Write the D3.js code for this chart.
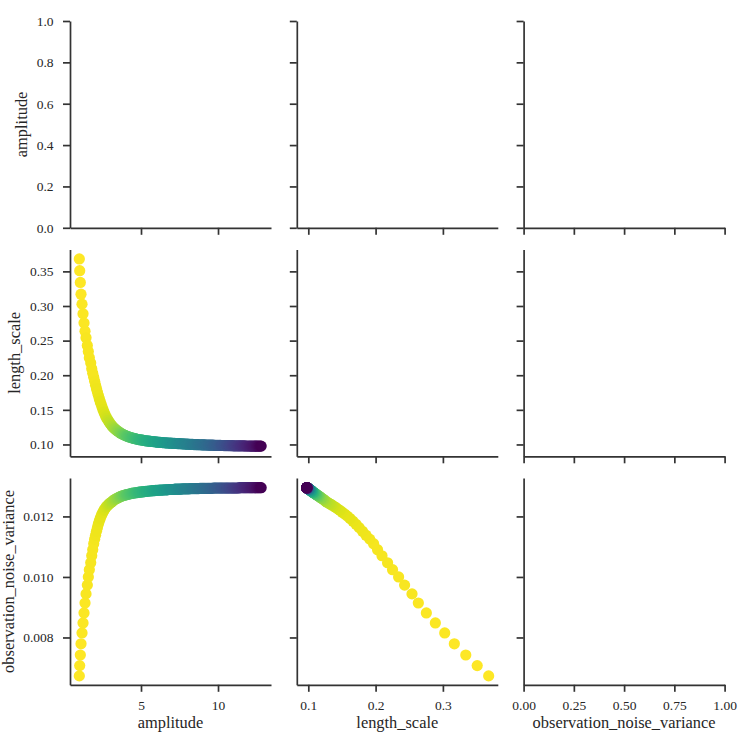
<!DOCTYPE html>
<html><head><meta charset="utf-8">
<script src="https://cdn.jsdelivr.net/npm/d3@7"></script>
<style>
body{margin:0;background:#fff}
</style>
</head><body><svg id="c" width="750" height="750"></svg>
<script>
const variables = ["amplitude", "length_scale", "observation_noise_variance"];

// optimisation step of each plotted point (hue)
const steps = [
  0, 1, 2, 3, 4, 5, 6, 7, 8, 9, 10, 11, 12, 13, 14, 15,
  18, 21, 24, 27, 30, 33, 36, 39, 42, 46, 52, 58, 66, 74, 82, 91, 100, 109, 118,
  127, 138, 149, 160, 171, 181, 192, 204, 216, 228,
  239, 250, 259, 268, 277, 284, 292, 300, 308, 315,
  322, 329, 336, 343, 349, 355, 361, 367, 373, 379,
  384, 390, 396, 402, 407, 412, 418, 423, 428, 433,
  438, 444, 450, 455, 461, 466, 472, 477, 483, 488,
  493, 499, 504, 510, 516, 521, 527, 533, 538, 544,
  549, 555, 561, 566, 572, 577, 583, 589, 595, 600,
  606, 612, 618, 624, 630, 635, 641, 647, 653, 659,
  665, 671, 678, 684, 691, 697, 704, 710, 717, 724,
  730, 737, 744, 751, 758, 765, 773, 781, 789, 797,
  804, 812, 820, 828, 836, 843, 851, 859, 867, 875,
  882, 890, 898, 906, 914, 922, 930, 939, 948, 958,
  967, 977, 988, 999
];

const amplitude = [
  0.995, 1.02, 1.06, 1.105, 1.17, 1.235, 1.30, 1.365, 1.43, 1.515, 1.58, 1.645, 1.735, 1.80, 1.865, 1.93,
  1.99, 2.05, 2.11, 2.17, 2.23, 2.29, 2.35, 2.41, 2.47, 2.53, 2.59, 2.65, 2.72, 2.79, 2.86, 2.93, 3.00, 3.07, 3.14,
  3.21, 3.29, 3.37, 3.45, 3.53, 3.60, 3.68, 3.76, 3.84, 3.92,
  3.99, 4.07, 4.15, 4.23, 4.31, 4.38, 4.46, 4.54, 4.62, 4.70,
  4.77, 4.85, 4.93, 5.01, 5.09, 5.16, 5.24, 5.32, 5.40, 5.48,
  5.55, 5.63, 5.71, 5.79, 5.87, 5.94, 6.02, 6.10, 6.18, 6.26,
  6.33, 6.41, 6.49, 6.57, 6.65, 6.72, 6.80, 6.88, 6.96, 7.04,
  7.11, 7.19, 7.27, 7.35, 7.43, 7.50, 7.58, 7.66, 7.74, 7.82,
  7.89, 7.97, 8.05, 8.13, 8.21, 8.28, 8.36, 8.44, 8.52, 8.60,
  8.67, 8.75, 8.83, 8.91, 8.99, 9.06, 9.14, 9.22, 9.30, 9.38,
  9.45, 9.53, 9.61, 9.69, 9.77, 9.84, 9.92, 10.00, 10.08, 10.16,
  10.23, 10.31, 10.39, 10.47, 10.55, 10.62, 10.70, 10.78, 10.86, 10.94,
  11.01, 11.09, 11.17, 11.25, 11.33, 11.40, 11.48, 11.56, 11.64, 11.72,
  11.79, 11.87, 11.95, 12.03, 12.11, 12.18, 12.26, 12.34, 12.42, 12.50,
  12.57, 12.65, 12.73, 12.80
];

const lengthScale = [
  0.368, 0.351, 0.334, 0.317, 0.3027, 0.2888, 0.2754, 0.2635, 0.2541, 0.2431, 0.2342, 0.2252, 0.2178, 0.2095, 0.2029, 0.197,
  0.1912, 0.1857, 0.1805, 0.1756, 0.1709, 0.1664, 0.1621, 0.1580, 0.1541, 0.1504, 0.1469, 0.1436, 0.1405, 0.1376, 0.1349, 0.1324, 0.1301, 0.1280, 0.1261,
  0.1244, 0.1228, 0.1213, 0.1199, 0.1186, 0.1174, 0.1163, 0.1153, 0.1144, 0.1136,
  0.1128, 0.1121, 0.1114, 0.1108, 0.1102, 0.1097, 0.1092, 0.1087, 0.1083, 0.1079,
  0.1075, 0.1071, 0.1068, 0.1065, 0.1062, 0.1059, 0.1056, 0.1053, 0.1051, 0.1049,
  0.1047, 0.1045, 0.1043, 0.1041, 0.1039, 0.1037, 0.1035, 0.1033, 0.1031, 0.1030,
  0.1028, 0.1027, 0.1025, 0.1024, 0.1023, 0.1021, 0.1020, 0.1019, 0.1018, 0.1017,
  0.1016, 0.1015, 0.1014, 0.1013, 0.1012, 0.1011, 0.1010, 0.1009, 0.1008, 0.1007,
  0.1006, 0.1005, 0.1004, 0.1003, 0.1002, 0.1001, 0.1000, 0.0999, 0.0999, 0.0998,
  0.0997, 0.0996, 0.0996, 0.0995, 0.0994, 0.0994, 0.0993, 0.0992, 0.0992, 0.0991,
  0.0991, 0.0990, 0.0989, 0.0989, 0.0988, 0.0988, 0.0987, 0.0987, 0.0986, 0.0986,
  0.0985, 0.0985, 0.0984, 0.0984, 0.0984, 0.0983, 0.0983, 0.0982, 0.0982, 0.0982,
  0.0981, 0.0981, 0.0981, 0.0980, 0.0980, 0.0980, 0.0979, 0.0979, 0.0979, 0.0979,
  0.0978, 0.0978, 0.0978, 0.0978, 0.0977, 0.0977, 0.0977, 0.0977, 0.0977, 0.0976,
  0.0976, 0.0976, 0.0976, 0.0976
];

const noiseVariance = [
  0.00673, 0.00707, 0.00742, 0.00779, 0.00815, 0.00848, 0.00881, 0.00914, 0.00944, 0.00973, 0.01000, 0.01024, 0.01047, 0.01070, 0.01090, 0.01110,
  0.01125, 0.01138, 0.01151, 0.01163, 0.01174, 0.01184, 0.01193, 0.01201, 0.01208, 0.01214, 0.01220, 0.01225, 0.01230, 0.01234, 0.01238, 0.01241, 0.01244, 0.01247, 0.01249,
  0.01253, 0.01256, 0.01258, 0.01260, 0.01262, 0.01264, 0.01266, 0.01267, 0.01269, 0.01270,
  0.01271, 0.01272, 0.01273, 0.01274, 0.01275, 0.01276, 0.01277, 0.01277, 0.01278, 0.01279,
  0.01279, 0.01280, 0.01280, 0.01281, 0.01281, 0.01282, 0.01282, 0.01283, 0.01283, 0.01284,
  0.01284, 0.01284, 0.01285, 0.01285, 0.01285, 0.01286, 0.01286, 0.01286, 0.01287, 0.01287,
  0.01287, 0.01287, 0.01288, 0.01288, 0.01288, 0.01288, 0.01289, 0.01289, 0.01289, 0.01289,
  0.01289, 0.01290, 0.01290, 0.01290, 0.01290, 0.01290, 0.01290, 0.01291, 0.01291, 0.01291,
  0.01291, 0.01291, 0.01291, 0.01291, 0.01292, 0.01292, 0.01292, 0.01292, 0.01292, 0.01292,
  0.01292, 0.01292, 0.01293, 0.01293, 0.01293, 0.01293, 0.01293, 0.01293, 0.01293, 0.01293,
  0.01293, 0.01293, 0.01293, 0.01294, 0.01294, 0.01294, 0.01294, 0.01294, 0.01294, 0.01294,
  0.01294, 0.01294, 0.01294, 0.01294, 0.01294, 0.01294, 0.01294, 0.01294, 0.01294, 0.01294,
  0.01294, 0.01294, 0.01294, 0.01294, 0.01294, 0.01295, 0.01295, 0.01295, 0.01295, 0.01295,
  0.01295, 0.01295, 0.01295, 0.01295, 0.01295, 0.01295, 0.01295, 0.01295, 0.01295, 0.01295,
  0.01295, 0.01295, 0.01295, 0.01295
];

// axis extents and ticks
const domainAmplitude = [0.39, 13.44];
const domainLength = [0.0829, 0.3816];
const domainNoise = [0.006436, 0.01327];
const domainUnit = [0, 1];

const ticksAmplitude = [5, 10];
const ticksLengthX = [0.1, 0.2, 0.3];
const ticksLengthY = [0.10, 0.15, 0.20, 0.25, 0.30, 0.35];
const ticksNoise = [0.008, 0.010, 0.012];
const ticksUnitY = [0.0, 0.2, 0.4, 0.6, 0.8, 1.0];
const ticksUnitX = [0.00, 0.25, 0.50, 0.75, 1.00];

const series = { amplitude: amplitude, length_scale: lengthScale, observation_noise_variance: noiseVariance };

// layout
const colX = [70, 296.8, 523.6], panelW = 201;
const rowY = [21, 249.5, 478], panelH = 206.8;
const tickFont = 13.5, labelFont = 16.4;
const axisColor = "#333333";
const textColor = "#262626";
const FONT = "Liberation Serif";

const xCfg = [
  { domain: domainAmplitude, ticks: ticksAmplitude, fmt: d3.format("d") },
  { domain: domainLength, ticks: ticksLengthX, fmt: d3.format(".1f") },
  { domain: domainUnit, ticks: ticksUnitX, fmt: d3.format(".2f") }
];
const yCfg = [
  { domain: domainUnit, ticks: ticksUnitY, fmt: d3.format(".1f") },
  { domain: domainLength, ticks: ticksLengthY, fmt: d3.format(".2f") },
  { domain: domainNoise, ticks: ticksNoise, fmt: d3.format(".3f") }
];

const xScales = colX.map((x0, c) => d3.scaleLinear().domain(xCfg[c].domain).range([x0, x0 + panelW]));
const yScales = rowY.map((y0, r) => d3.scaleLinear().domain(yCfg[r].domain).range([y0 + panelH, y0]));

const n = amplitude.length;
const colorScale = d3.scaleSequential(t => d3.interpolateViridis(1 - t)).domain(d3.extent(steps));
const idx = d3.range(n);

const svg = d3.select("#c");

function styleAxis(g) {
  g.attr("font-family", FONT).attr("font-size", tickFont);
  g.select(".domain").attr("stroke", axisColor).attr("stroke-width", 1.7);
  g.selectAll(".tick line").attr("stroke", axisColor).attr("stroke-width", 1.7);
  g.selectAll(".tick text").attr("fill", textColor)
    .attr("font-family", FONT).attr("font-size", tickFont);
}

for (let r = 0; r < 3; r++) {
  for (let c = 0; c < 3; c++) {
    const xs = xScales[c], ys = yScales[r];
    const panel = svg.append("g");

    if (r > c) {
      const xv = series[variables[c]], yv = series[variables[r]];
      panel.append("g").selectAll("circle").data(idx).join("circle")
        .attr("cx", i => xs(xv[i]))
        .attr("cy", i => ys(yv[i]))
        .attr("r", 5.6)
        .attr("fill", i => colorScale(steps[i]));
    }

    const xa = d3.axisBottom(xs).tickValues(xCfg[c].ticks).tickSize(7).tickPadding(9).tickSizeOuter(0)
      .tickFormat(r === 2 ? xCfg[c].fmt : () => "");
    panel.append("g").attr("transform", `translate(0,${rowY[r] + panelH})`).call(xa).call(styleAxis);

    const ya = d3.axisLeft(ys).tickValues(yCfg[r].ticks).tickSize(7).tickPadding(9.5).tickSizeOuter(0)
      .tickFormat(c === 0 ? yCfg[r].fmt : () => "");
    const gy = panel.append("g").attr("transform", `translate(${colX[c]},0)`).call(ya).call(styleAxis);

    if (c === 0) {
      let minX = Infinity;
      gy.selectAll(".tick text").each(function () {
        const b = this.getBBox();
        minX = Math.min(minX, b.x + colX[c]);
      });
      const baseline = minX - 6 - labelFont * 0.22;
      svg.append("text")
        .attr("transform", `translate(${baseline},${rowY[r] + panelH / 2}) rotate(-90)`)
        .attr("text-anchor", "middle")
        .attr("font-family", FONT).attr("font-size", labelFont).attr("fill", textColor)
        .text(variables[r]);
    }
    if (r === 2) {
      svg.append("text")
        .attr("x", colX[c] + panelW / 2)
        .attr("y", rowY[r] + panelH + 43.5)
        .attr("text-anchor", "middle")
        .attr("font-family", FONT).attr("font-size", labelFont).attr("fill", textColor)
        .text(variables[c]);
    }
  }
}
</script>
</body></html>
